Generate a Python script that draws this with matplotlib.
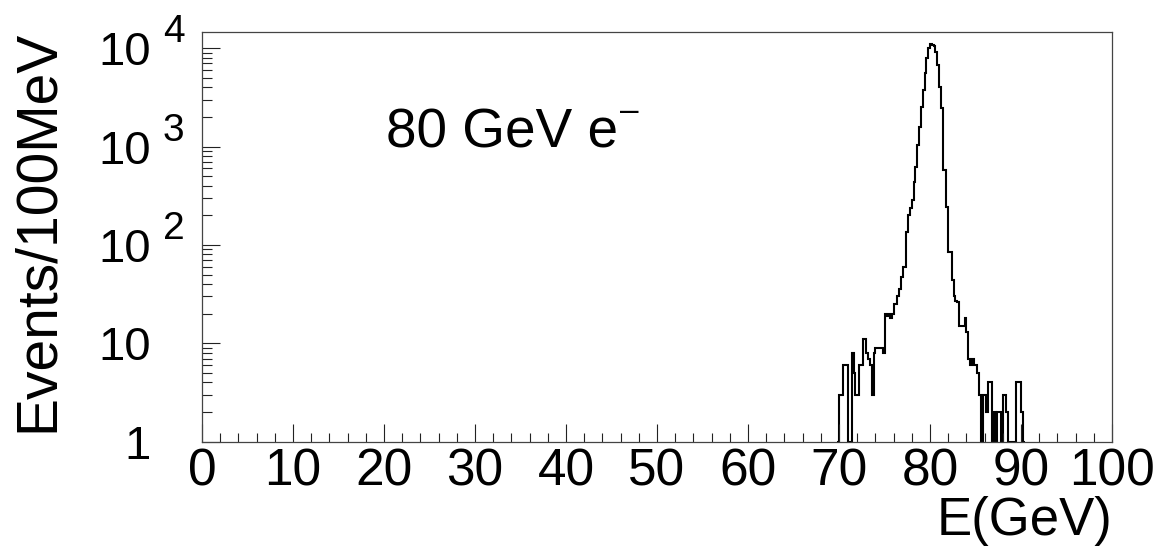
import numpy as np
import matplotlib
matplotlib.use("Agg")
import matplotlib.pyplot as plt
from matplotlib import transforms as mtransforms
from matplotlib.ticker import MultipleLocator, LogLocator, NullFormatter

plt.rcParams["font.family"] = ["Liberation Sans", "DejaVu Sans"]

# Reconstructed energy spectrum of 80 GeV electrons
bin_low = 69.8      # GeV, lower edge of first filled bin
bin_width = 0.2     # GeV
counts = [
    1, 3, 3, 6, 6, 6, 1, 1, 8, 5,
    3, 3, 6, 6, 11, 11, 8, 7, 6, 3,
    8, 9, 9, 9, 9, 8, 20, 19, 20, 18,
    20, 25, 25, 30, 36, 47, 59, 60, 135, 200,
    240, 285, 435, 620, 1030, 1580, 2500, 3720, 5600, 7900,
    10000, 11000, 10800, 10500, 9100, 6700, 4000, 2450, 575, 575,
    245, 85, 85, 44, 30, 27, 26, 15, 15, 15,
    18, 13, 7, 6, 7, 6, 6, 5, 3, 1,
    3, 3, 2, 4, 4, 1, 2, 1, 2, 2,
    1, 3, 3, 2, 1, 1, 1, 1, 4, 4,
    4, 2, 1,
]
x_ticks = [0, 10, 20, 30, 40, 50, 60, 70, 80, 90, 100]
x_tick_labels = ["0", "10", "20", "30", "40", "50", "60", "70", "80", "90", "100"]
y_decades = [1, 10, 100, 1000, 10000]
y_exponents = ["", "", "2", "3", "4"]

W, H = 1171, 546
fig = plt.figure(figsize=(W / 100, H / 100), dpi=100)
ax = fig.add_axes([202 / W, 1 - 441.7 / H, (1112 - 202) / W, (441.7 - 31.6) / H])

edges = bin_low + bin_width * np.arange(len(counts) + 1)
ax.stairs(counts, edges, baseline=1, color="black", lw=1.5)

ax.set_yscale("log")
ax.set_xlim(0, 100)
ax.set_ylim(1, 10 ** 4.168)

for s in ax.spines.values():
    s.set_color("#444444")
    s.set_linewidth(0.9)

ax.xaxis.set_major_locator(MultipleLocator(10))
ax.xaxis.set_minor_locator(MultipleLocator(2))
ax.yaxis.set_major_locator(LogLocator(base=10, numticks=10))
ax.yaxis.set_minor_locator(LogLocator(base=10, subs=np.arange(2, 10), numticks=20))
ax.yaxis.set_major_formatter(NullFormatter())
ax.yaxis.set_minor_formatter(NullFormatter())
ax.tick_params(which="both", direction="in", color="#222222", width=0.8,
               top=False, right=False)
ax.tick_params(axis="x", which="major", length=13, labelsize=37, pad=4)
ax.tick_params(axis="x", which="minor", length=6.5)
ax.tick_params(axis="y", which="major", length=13)
ax.tick_params(axis="y", which="minor", length=7)
ax.set_xticks(x_ticks)
ax.set_xticklabels(x_tick_labels)

# y tick labels written as 10 with a raised exponent
base_tr = ax.get_yaxis_transform()
for val, ex in zip(y_decades, y_exponents):
    txt = "1" if val == 1 else "10"
    tr = mtransforms.offset_copy(base_tr, fig=fig, x=-51 * 0.72, y=0, units="points")
    ax.text(0, val, txt, transform=tr, ha="right", va="center_baseline", fontsize=34)
    if ex:
        tr2 = mtransforms.offset_copy(base_tr, fig=fig, x=-39 * 0.72, y=6 * 0.72, units="points")
        ax.text(0, val, ex, transform=tr2, ha="left", va="baseline", fontsize=28)

# axis titles
fig.text(1112 / W, 1 - 535 / H, "E(GeV)", ha="right", va="baseline", fontsize=38)
fig.text(38 / W, 1 - 30 / H, "Events/100MeV", rotation=90, ha="center", va="top",
         fontsize=41)

# beam label
fig.text(386 / W, 1 - 148 / H, "80 GeV e", ha="left", va="baseline", fontsize=39.5)
fig.text(620 / W, 1 - 120 / H, "\u2013", ha="left", va="baseline", fontsize=24)

fig.savefig("out.png", dpi=100, facecolor="white")
